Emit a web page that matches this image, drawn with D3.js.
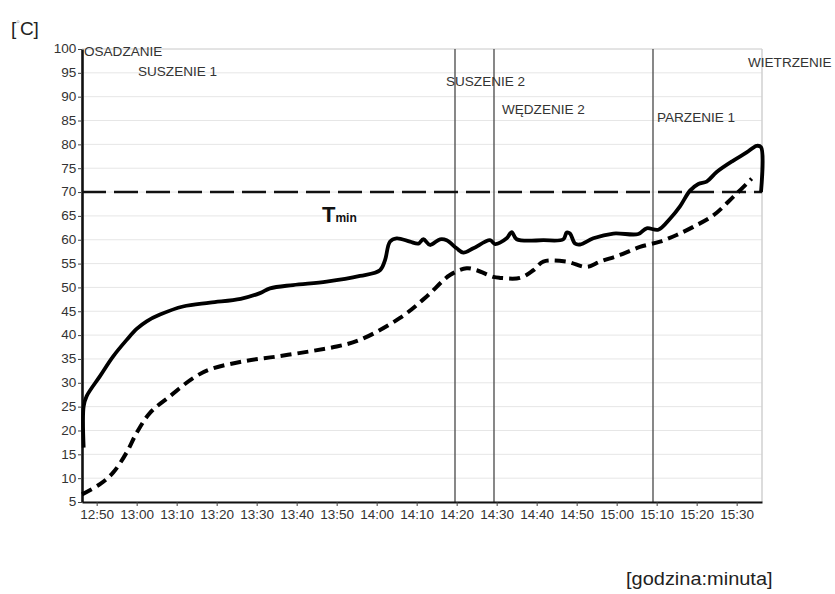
<!DOCTYPE html>
<html>
<head>
<meta charset="utf-8">
<script src="https://cdn.jsdelivr.net/npm/d3@7"></script>
<style>
  body { margin: 0; background: #fff; }
  svg { display: block; font-family: "Liberation Sans", Arial, sans-serif; }
</style>
</head>
<body>
<div id="chart"></div>
<script>
// measured temperature (solid) - time of day / °C
const chamberTimes = ["12:46:45","12:46:45","12:47:30","12:50:50","12:54:05","12:57:30","13:00:00","13:02:30","13:05:50",
  "13:11:35","13:18:20","13:26:00","13:30:50","13:33:20","13:39:05","13:47:30","13:55:50","14:00:50",
  "14:02:05","14:03:20","14:05:00","14:08:20","14:10:25","14:11:40","14:13:20","14:15:50","14:17:30",
  "14:20:00","14:21:40","14:24:10","14:28:20","14:29:35","14:32:30","14:33:45","14:35:00","14:41:40",
  "14:46:40","14:47:30","14:48:20","14:49:35","14:50:50","14:54:10","14:59:10","15:05:25","15:07:30",
  "15:10:25","15:13:20","15:15:50","15:18:20","15:20:25","15:22:30","15:25:00","15:29:10","15:32:30",
  "15:35:00","15:36:05","15:36:05"];
const chamberTemps = [16.4,25.1,27.2,31.4,35.5,39.0,41.3,42.9,44.3,
  46.0,46.8,47.6,48.8,49.8,50.5,51.2,52.4,53.6,
  55.7,59.6,60.3,59.6,59.2,60.1,58.9,60.1,59.9,
  58.2,57.3,58.2,59.9,59.1,60.3,61.6,60.1,59.9,
  60.1,61.5,61.3,59.2,59.0,60.3,61.3,61.2,62.4,
  62.1,64.4,67.0,70.3,71.7,72.2,74.2,76.6,78.3,
  79.7,79.4,70.0];

// product temperature (dashed)
const productTimes = ["12:46:20","12:50:50","12:54:09","12:57:30","13:00:00","13:03:20","13:08:20","13:14:09",
  "13:18:20","13:26:39","13:35:00","13:43:20","13:50:00","13:55:50","14:05:50","14:12:30","14:18:20",
  "14:22:30","14:25:00","14:29:09","14:30:50","14:35:50","14:39:09","14:41:39","14:47:30","14:52:30",
  "14:55:50","15:00:50","15:05:50","15:10:50","15:15:00","15:19:09","15:24:09","15:29:09","15:33:45"];
const productTemps = [6.6,8.75,11.2,15.4,19.5,23.7,27.2,31.0,
  32.8,34.5,35.5,36.6,37.6,39.0,43.6,48.1,52.6,
  54.0,53.6,52.2,52.0,52.0,53.6,55.4,55.4,54.3,
  55.4,56.8,58.5,59.6,61.0,62.7,65.1,69.0,72.8];

const phaseBoundaries = ["14:19:35","14:29:20","15:09:05"];
const phaseNames = ["OSADZANIE","SUSZENIE 1","SUSZENIE 2","WĘDZENIE 2","PARZENIE 1","WIETRZENIE"];
const tMin = 70;
const yTicks = d3.range(5, 101, 5);
const xStart = "12:46:20", xEnd = "15:36:20";

const W = 835, H = 594;
const STRETCH = 1.13; // the source text is slightly wide

const parseT = d3.timeParse("%H:%M:%S");

const svg = d3.select("#chart").append("svg")
    .attr("width", W)
    .attr("height", H)
    .attr("viewBox", `0 0 ${W} ${H}`);

const x = d3.scaleTime()
    .domain([parseT(xStart), parseT(xEnd)])
    .range([82, 762]);
const y = d3.scaleLinear()
    .domain([5, 100])
    .range([502, 49]);

// grid
svg.append("g")
    .selectAll("line")
    .data(yTicks)
    .join("line")
    .attr("x1", x.range()[0])
    .attr("x2", x.range()[1])
    .attr("y1", (d) => y(d))
    .attr("y2", (d) => y(d))
    .attr("stroke", (d) => d === 100 ? "#c8c8c8" : "#e6e6e6")
    .attr("stroke-width", 1);

svg.append("line")
    .attr("x1", x.range()[1]).attr("x2", x.range()[1])
    .attr("y1", y(100)).attr("y2", y(5))
    .attr("stroke", "#d0d0d0")
    .attr("stroke-width", 1.5);

// phase boundaries
svg.append("g")
    .selectAll("line")
    .data(phaseBoundaries)
    .join("line")
    .attr("x1", (d) => x(parseT(d)))
    .attr("x2", (d) => x(parseT(d)))
    .attr("y1", y(100))
    .attr("y2", y(5))
    .attr("stroke", "#555")
    .attr("stroke-width", 1.4);

// Tmin
svg.append("line")
    .attr("x1", x.range()[0]).attr("x2", x.range()[1])
    .attr("y1", y(tMin)).attr("y2", y(tMin))
    .attr("stroke", "#111")
    .attr("stroke-width", 2.4)
    .attr("stroke-dasharray", "24,8");

// axes
const xAxis = d3.axisBottom(x)
    .tickValues(d3.timeMinute.every(10).range(parseT("12:50:00"), parseT("15:30:01")))
    .tickFormat(d3.timeFormat("%H:%M"))
    .tickSize(4)
    .tickSizeOuter(0)
    .tickPadding(4);

const gx = svg.append("g")
    .attr("transform", `translate(0,${y(5)})`)
    .call(xAxis);
gx.select(".domain").attr("stroke", "#111").attr("stroke-width", 2.2);
gx.selectAll(".tick line").attr("stroke", "#444");
gx.selectAll(".tick text")
    .attr("fill", "#333")
    .attr("font-size", 12)
    .attr("transform", `scale(${STRETCH},1)`);

const yAxis = d3.axisLeft(y)
    .tickValues(yTicks)
    .tickSize(4)
    .tickSizeOuter(0)
    .tickPadding(1);

const gy = svg.append("g")
    .attr("transform", `translate(${x.range()[0]},0)`)
    .call(yAxis);
gy.select(".domain").attr("stroke", "#111").attr("stroke-width", 2.6);
gy.selectAll(".tick line").attr("stroke", "#444");
gy.selectAll(".tick text")
    .attr("fill", "#333")
    .attr("font-size", 12)
    .attr("transform", `scale(${STRETCH},1)`);

// series
const line = d3.line()
    .x((d) => x(d[0]))
    .y((d) => y(d[1]))
    .curve(d3.curveCatmullRom.alpha(0.5));

const chamber = chamberTimes.map((t, i) => [parseT(t), chamberTemps[i]]);
const product = productTimes.map((t, i) => [parseT(t), productTemps[i]]);

svg.append("path")
    .datum(product)
    .attr("d", line)
    .attr("fill", "none")
    .attr("stroke", "#000")
    .attr("stroke-width", 4)
    .attr("stroke-dasharray", "11,6");

svg.append("path")
    .datum(chamber)
    .attr("d", line)
    .attr("fill", "none")
    .attr("stroke", "#000")
    .attr("stroke-width", 3.8)
    .attr("stroke-linejoin", "round");

// phase labels
const labelPos = [[84, 55.5], [138, 76], [446, 86], [502, 114], [657, 121.5], [748, 67]];
svg.append("g")
    .selectAll("text")
    .data(phaseNames)
    .join("text")
    .attr("transform", (d, i) => `translate(${labelPos[i][0]},${labelPos[i][1]}) scale(${STRETCH},1)`)
    .attr("font-size", 12)
    .attr("fill", "#333")
    .text((d) => d);

// Tmin label
const tLabel = svg.append("text")
    .attr("transform", `translate(322,222)`)
    .attr("font-weight", "bold")
    .attr("fill", "#111");
tLabel.append("tspan").attr("font-size", 22).text("T");
tLabel.append("tspan").attr("font-size", 12).text("min");

// unit labels
const unit = svg.append("text")
    .attr("x", 11)
    .attr("y", 35)
    .attr("font-size", 19)
    .attr("fill", "#222");
unit.append("tspan").text("[");
unit.append("tspan").attr("font-size", 9).attr("dy", -8).attr("fill", "#999").text("°");
unit.append("tspan").attr("dy", 8).text("C]");

svg.append("text")
    .attr("transform", `translate(626,585) scale(1.08,1)`)
    .attr("font-size", 18.5)
    .attr("fill", "#222")
    .text("[godzina:minuta]");
</script>
</body>
</html>
